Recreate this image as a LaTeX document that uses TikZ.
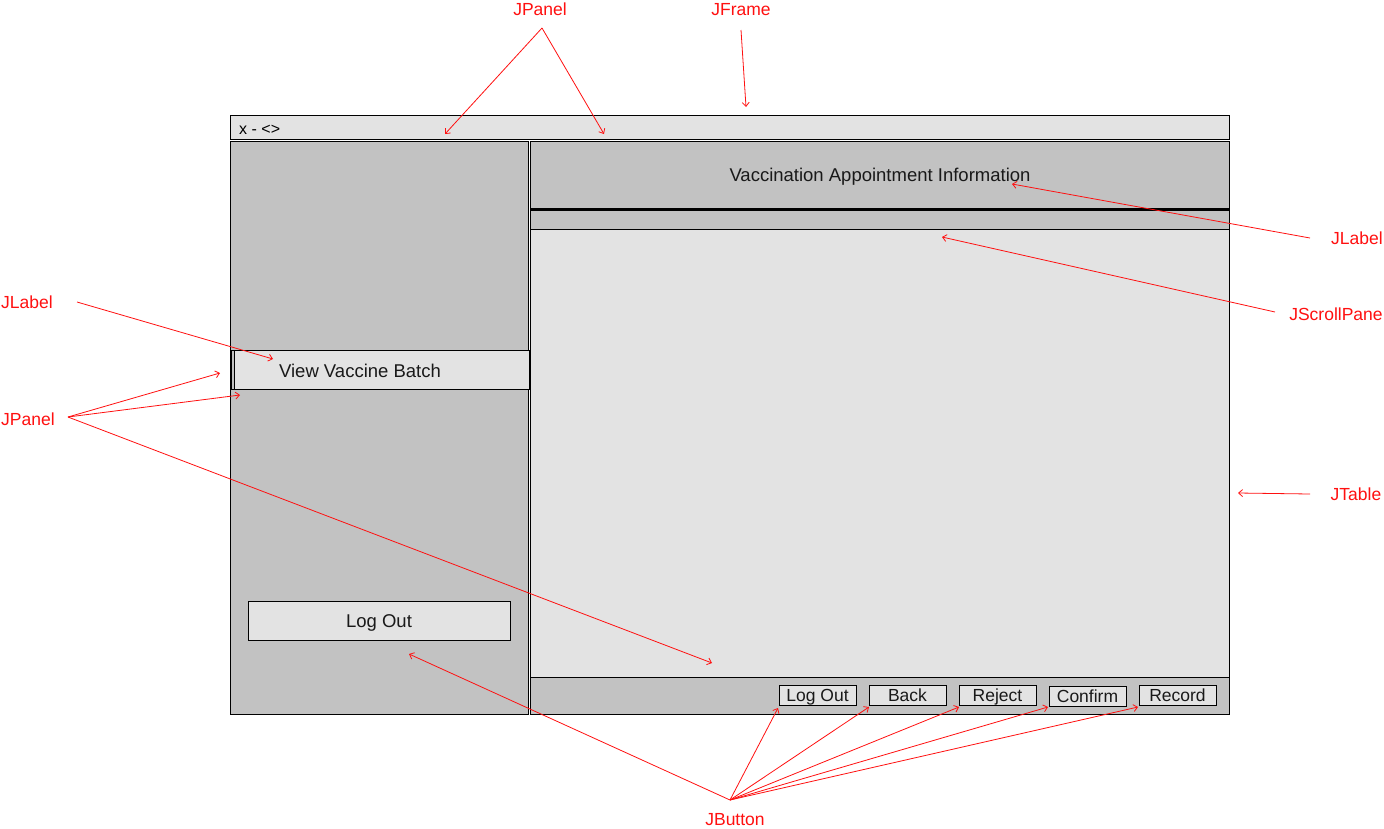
\documentclass[tikz,border=0pt]{standalone}
\usepackage{fontspec}
\setmainfont{Liberation Sans}
\usetikzlibrary{arrows.meta}
\definecolor{panelgray}{HTML}{C2C2C2}
\definecolor{lightgray}{HTML}{E3E3E3}
\definecolor{annred}{HTML}{FF1010}
\begin{document}
\begin{tikzpicture}[x=1pt,y=-1pt,
  box/.style={draw=black, line width=1pt},
  ui/.style={font=\fontsize{18.5}{22}\selectfont, text=black!90, inner sep=0pt, text height=13.2pt, text depth=0pt},
  btn/.style={draw=black, fill=lightgray, line width=1pt, minimum width=77pt, minimum height=20pt, inner sep=0pt, font=\fontsize{17.5}{20}\selectfont, text=black!90, text height=12.5pt, text depth=0pt},
  ann/.style={text=annred, font=\fontsize{17.5}{20}\selectfont, inner sep=0pt, text height=12.5pt, text depth=0pt},
  arr/.style={draw=annred, line width=0.8pt, -{Straight Barb[length=4pt,width=7pt]}}]
\useasboundingbox (0,0) rectangle (1384,828);
\fill[white] (0,0) rectangle (1384,828);

% frame title bar
\draw[box, fill=lightgray] (230,115) rectangle (1229,139);
\node[anchor=west, font=\fontsize{16}{18}\selectfont, inner sep=0pt, text height=11.5pt, text depth=0pt] (xbar) at (239,128.5) {x - <>};

% left panel
\draw[box, fill=panelgray] (230,141) rectangle (528,714);
% right panel
\draw[box, fill=panelgray] (530,141) rectangle (1229,714);
\draw[box, fill=lightgray] (530,229) rectangle (1229,677);
\draw[line width=3pt] (530,209.5) -- (1229,209.5);
\node[ui] (title) at (880,175) {Vaccination Appointment Information};

% View Vaccine Batch
\draw[box, fill=panelgray] (231,350) rectangle (529,389);
\draw[box, fill=lightgray] (234,350) rectangle (529,389);
\node[ui] (vvb) at (360,371) {View Vaccine Batch};

% Log out (left)
\node[btn, minimum width=262pt, minimum height=39pt, font=\fontsize{18.5}{22}\selectfont, text height=13.2pt] (logoutL) at (379,620.5) {Log Out};

% bottom buttons
\node[btn] (b1) at (817.5,695) {Log Out};
\node[btn] (b2) at (907.5,695) {Back};
\node[btn] (b3) at (997.5,695) {Reject};
\node[btn] (b4) at (1087.5,696.5) {Confirm};
\node[btn] (b5) at (1177.5,695) {Record};

% annotation labels
\node[ann] (lPanelTop) at (540,9) {JPanel};
\node[ann] (lFrame) at (741,9) {JFrame};
\node[ann] (lLabelR) at (1357,238) {JLabel};
\node[ann] (lScroll) at (1336,314) {JScrollPane};
\node[ann] (lTable) at (1356,494) {JTable};
\node[ann] (lLabelL) at (27,302) {JLabel};
\node[ann] (lPanelL) at (28,419) {JPanel};
\node[ann] (lButton) at (735,819.5) {JButton};

% arrow start points
\coordinate (sPanelTop) at (542,28);
\coordinate (sFrame) at (741,30);
\coordinate (sLabelR) at (1310,238);
\coordinate (sScroll) at (1275,312);
\coordinate (sTable) at (1310,494);
\coordinate (sLabelL) at (77,302);
\coordinate (sPanelL) at (68,417);
\coordinate (sButton) at (730,800);

% arrow tips
\coordinate (tP1) at (445,134);
\coordinate (tP2) at (604,134);
\coordinate (tF) at (746,107);
\coordinate (tLR) at (1012,184);
\coordinate (tS) at (942,237);
\coordinate (tT) at (1238,493);
\coordinate (tLL) at (273,359);
\coordinate (tPL1) at (220,373);
\coordinate (tPL2) at (240,395);
\coordinate (tPL3) at (712,663);
\coordinate (tB0) at (409,654);
\coordinate (tB1) at (778,708);
\coordinate (tB2) at (869,707);
\coordinate (tB3) at (959,707);
\coordinate (tB4) at (1048,707);
\coordinate (tB5) at (1138,707);

\draw[arr] (sPanelTop) -- (tP1);
\draw[arr] (sPanelTop) -- (tP2);
\draw[arr] (sFrame) -- (tF);
\draw[arr] (sLabelR) -- (tLR);
\draw[arr] (sScroll) -- (tS);
\draw[arr] (sTable) -- (tT);
\draw[arr] (sLabelL) -- (tLL);
\draw[arr] (sPanelL) -- (tPL1);
\draw[arr] (sPanelL) -- (tPL2);
\draw[arr] (sPanelL) -- (tPL3);
\draw[arr] (sButton) -- (tB0);
\draw[arr] (sButton) -- (tB1);
\draw[arr] (sButton) -- (tB2);
\draw[arr] (sButton) -- (tB3);
\draw[arr] (sButton) -- (tB4);
\draw[arr] (sButton) -- (tB5);
\end{tikzpicture}
\end{document}
